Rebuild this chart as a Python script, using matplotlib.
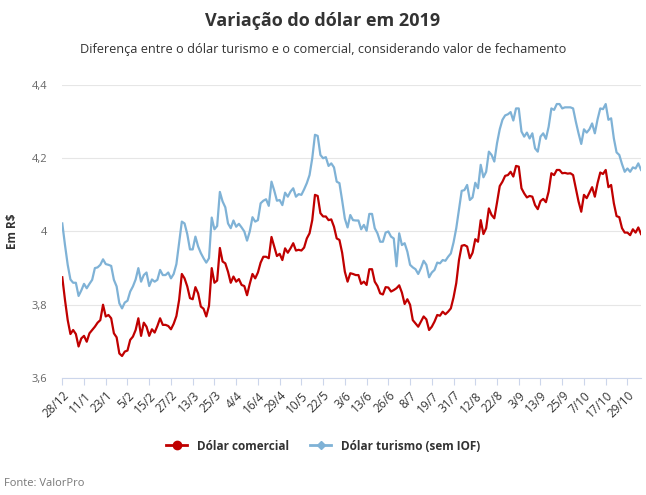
#! /usr/bin/env python3

"""Variação do dólar em 2019: dólar comercial x dólar turismo."""

import matplotlib
matplotlib.use("Agg")
import matplotlib.pyplot as plt
import matplotlib.transforms as mtransforms
from matplotlib.lines import Line2D

plt.rcParams["font.family"] = ["Open Sans", "DejaVu Sans"]

# Rótulos do eixo x (um a cada 8 pregões)
tick_labels = [
    "28/12", "11/1", "23/1", "5/2", "15/2", "27/2", "13/3", "25/3", "4/4",
    "16/4", "29/4", "10/5", "22/5", "3/6", "13/6", "26/6", "8/7", "19/7",
    "31/7", "12/8", "22/8", "3/9", "13/9", "25/9", "7/10", "17/10", "29/10",
]
tick_step = 8

# Fechamento diário (R$)
comercial = [
    3.875, 3.813, 3.758, 3.720, 3.731, 3.720, 3.686, 3.708, 3.715, 3.699,
    3.722, 3.731, 3.740, 3.751, 3.758, 3.800, 3.768, 3.772, 3.763, 3.722,
    3.711, 3.667, 3.660, 3.672, 3.675, 3.704, 3.713, 3.731, 3.763, 3.715,
    3.751, 3.740, 3.715, 3.733, 3.724,
    3.742, 3.763, 3.745, 3.745, 3.742, 3.733, 3.748, 3.769, 3.813, 3.884,
    3.872, 3.850, 3.818, 3.815, 3.848, 3.831, 3.795, 3.789, 3.768, 3.797,
    3.900, 3.860, 3.866, 3.955, 3.918, 3.913, 3.890, 3.860, 3.877, 3.863,
    3.870, 3.854, 3.851,
    3.826, 3.857, 3.884, 3.872, 3.888, 3.915, 3.931, 3.931, 3.927, 3.985,
    3.959, 3.933, 3.939, 3.922, 3.954, 3.942, 3.954, 3.968, 3.948, 3.950,
    3.948, 3.956, 3.981, 3.995, 4.031, 4.100, 4.097, 4.050, 4.041, 4.041,
    4.031, 4.033, 4.013, 3.981, 3.977,
    3.942, 3.890, 3.863, 3.886, 3.884, 3.881, 3.881, 3.857, 3.863, 3.854,
    3.897, 3.897, 3.863, 3.851, 3.831, 3.828, 3.848, 3.847, 3.836, 3.840,
    3.845, 3.853, 3.833, 3.802, 3.815, 3.800, 3.758, 3.749, 3.740, 3.754,
    3.768, 3.760, 3.731, 3.740, 3.754, 3.772,
    3.770, 3.781, 3.774, 3.781, 3.790, 3.820, 3.859, 3.922, 3.961, 3.963,
    3.959, 3.927, 3.942, 3.979, 3.972, 4.031, 3.993, 4.009, 4.063, 4.045,
    4.036, 4.079, 4.124, 4.136, 4.152, 4.154, 4.163, 4.150, 4.179, 4.177,
    4.118, 4.104, 4.093, 4.097,
    4.095, 4.072, 4.061, 4.083, 4.089, 4.080, 4.109, 4.159, 4.154, 4.168,
    4.168, 4.159, 4.160, 4.158, 4.159, 4.154, 4.118, 4.082, 4.054, 4.100,
    4.091, 4.106, 4.121, 4.095, 4.132, 4.161, 4.157, 4.168, 4.121, 4.127,
    4.077, 4.042, 4.039, 4.009, 3.997, 3.997, 3.990, 4.006, 3.997, 4.011,
    3.993,
]

turismo = [
    4.022, 3.963, 3.909, 3.869, 3.860, 3.860, 3.824, 3.839, 3.857, 3.845,
    3.857, 3.868, 3.900, 3.902, 3.909, 3.924, 3.911, 3.909, 3.906, 3.868,
    3.850, 3.804, 3.790, 3.806, 3.811, 3.836, 3.850, 3.869, 3.900, 3.863,
    3.881, 3.888, 3.851, 3.869, 3.863,
    3.868, 3.895, 3.881, 3.881, 3.888, 3.872, 3.884, 3.911, 3.968, 4.027,
    4.022, 3.993, 3.951, 3.951, 3.986, 3.959, 3.941, 3.927, 3.915, 3.927,
    4.038, 4.006, 4.015, 4.108, 4.082, 4.066, 4.022, 4.009, 4.030, 4.013,
    4.021, 4.011, 4.000,
    3.975, 4.000, 4.039, 4.027, 4.031, 4.077, 4.084, 4.088, 4.070, 4.136,
    4.112, 4.084, 4.086, 4.072, 4.106, 4.095, 4.109, 4.118, 4.095, 4.102,
    4.100, 4.115, 4.132, 4.154, 4.200, 4.264, 4.261, 4.209, 4.200, 4.203,
    4.179, 4.186, 4.175, 4.136, 4.132,
    4.085, 4.035, 4.011, 4.045, 4.031, 4.030, 4.030, 4.006, 4.018, 4.002,
    4.048, 4.048, 4.009, 3.995, 3.972, 3.972, 3.997, 4.000, 3.986, 3.981,
    3.905, 3.995, 3.963, 3.968, 3.945, 3.909, 3.902, 3.897, 3.884, 3.900,
    3.920, 3.909, 3.875, 3.888, 3.895, 3.915,
    3.913, 3.922, 3.920, 3.931, 3.940, 3.970, 4.009, 4.059, 4.111, 4.113,
    4.127, 4.086, 4.093, 4.133, 4.118, 4.182, 4.148, 4.163, 4.218, 4.209,
    4.191, 4.241, 4.279, 4.305, 4.317, 4.320, 4.326, 4.303, 4.336, 4.336,
    4.273, 4.259, 4.270, 4.254,
    4.268, 4.227, 4.218, 4.259, 4.268, 4.253, 4.286, 4.336, 4.332, 4.348,
    4.348, 4.336, 4.339, 4.339, 4.339, 4.336, 4.300, 4.268, 4.239, 4.279,
    4.270, 4.279, 4.295, 4.268, 4.306, 4.336, 4.334, 4.348, 4.305, 4.309,
    4.254, 4.216, 4.209, 4.184, 4.163, 4.172, 4.163, 4.175, 4.172, 4.186,
    4.168,
]

y_ticks = [3.6, 3.8, 4.0, 4.2, 4.4]
y_tick_labels = ["3,6", "3,8", "4", "4,2", "4,4"]

RED = "#c00000"
BLUE = "#7fb2d6"

fig = plt.figure(figsize=(6.46, 4.95), dpi=100)
ax = fig.add_axes([0.0964, 0.2364, 0.8959, 0.5919])

x = list(range(len(comercial)))
ax.plot(x, comercial, color=RED, lw=1.6, zorder=3)
ax.plot(x, turismo, color=BLUE, lw=1.6, zorder=3)

ax.set_xlim(0, len(comercial) - 1)
ax.set_ylim(3.6, 4.4)
ax.set_yticks(y_ticks)
ax.set_yticklabels(y_tick_labels, color="#666666", fontsize=8)
ax.grid(axis="y", color="#e6e6e6", lw=0.8)
ax.set_axisbelow(True)

ax.set_xticks([i * tick_step for i in range(len(tick_labels))])
ax.set_xticklabels(tick_labels, fontsize=8.5, color="#333333")
# shift the rotated labels a bit to the right, like the original
shift = mtransforms.ScaledTranslation(5 / 100, 0, fig.dpi_scale_trans)
for lab in ax.get_xticklabels():
    lab.set_rotation(45)
    lab.set_ha("right")
    lab.set_va("top")
    lab.set_rotation_mode("anchor")
    lab.set_transform(lab.get_transform() + shift)
ax.tick_params(axis="x", length=5, color="#ccd6eb", pad=3)
ax.tick_params(axis="y", length=0, pad=11)

for side in ["top", "right", "left"]:
    ax.spines[side].set_visible(False)
ax.spines["bottom"].set_color("#ccd6eb")

ax.set_ylabel("Em R$", fontsize=8.5, fontweight="bold", color="#333333")
ax.yaxis.set_label_coords(-0.074, 0.5)

fig.text(0.5, 1 - 21 / 495, "Variação do dólar em 2019", ha="center",
         va="center", fontsize=13, fontweight="bold", color="#333333")
fig.text(0.5, 1 - 50 / 495,
         "Diferença entre o dólar turismo e o comercial, considerando valor de fechamento",
         ha="center", va="center", fontsize=9.2, color="#333333")
fig.text(4 / 646, 1 - 484 / 495, "Fonte: ValorPro", ha="left", va="center",
         fontsize=8, color="#777777")

handles = [
    Line2D([], [], color=RED, lw=2, marker="o", markersize=6),
    Line2D([], [], color=BLUE, lw=2, marker="D", markersize=4.5),
]
fig.legend(handles, ["Dólar comercial", "Dólar turismo (sem IOF)"],
           loc="center", bbox_to_anchor=(0.5, 1 - 446 / 495), ncol=2,
           frameon=False, handlelength=1.8, columnspacing=1.8,
           prop={"weight": "bold", "size": 8.5}, labelcolor="#333333")

fig.savefig("out.png", dpi=100)
